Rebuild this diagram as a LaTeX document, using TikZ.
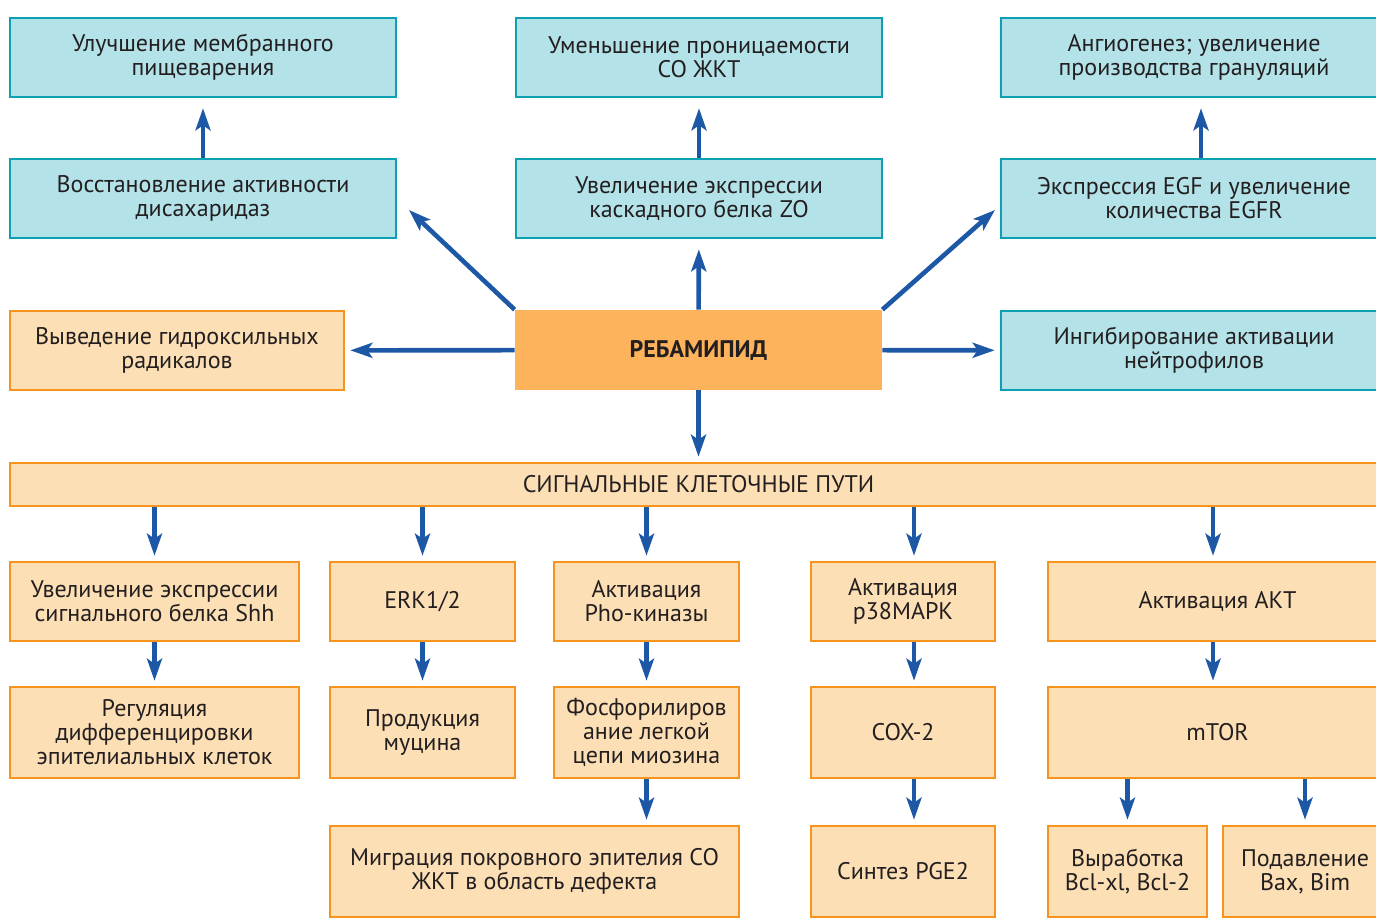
\documentclass[tikz,border=0pt]{standalone}
\usepackage{fontspec}
\setmainfont{PT Sans}
\usetikzlibrary{arrows.meta,positioning,calc}
\definecolor{rbTeal}{HTML}{B3E2E8}
\definecolor{rbTealLine}{HTML}{0BA0B4}
\definecolor{rbPeach}{HTML}{FDDFB5}
\definecolor{rbOrange}{HTML}{F7941D}
\definecolor{rbCore}{HTML}{FDB35B}
\definecolor{rbBlue}{HTML}{1C58A5}
\definecolor{rbText}{HTML}{231F20}
\tikzset{
    box/.style={
        draw=#1,line width=1.3pt,align=center,text=rbText,inner sep=0pt,
        font=\fontsize{12}{12}\selectfont
    },
    tealbox/.style={box=rbTealLine,fill=rbTeal},
    peachbox/.style={box=rbOrange,fill=rbPeach},
    flow/.style={
        -{Stealth[length=11pt,width=7.5pt,inset=2.5pt]},
        line width=2.3pt,draw=rbBlue,shorten >=2.5pt
    }
}

\begin{document}
\begin{tikzpicture}[x=0.5pt,y=-0.5pt]
\useasboundingbox (0,0) rectangle (1376,917);
\clip (0,0) rectangle (1376,917);

% effects
\node[tealbox,minimum width=193pt,minimum height=39.5pt](membr) at (203,57.5)
{Улучшение мембранного\\пищеварения};
\node[tealbox,minimum width=183pt,minimum height=39.5pt](perm) at (699,57.5)
{Уменьшение проницаемости\\СО ЖКТ};
\node[tealbox,minimum width=193pt,minimum height=39.5pt](angio) at (1194,57.5)
{Ангиогенез; увеличение\\производства грануляций};

\node[tealbox,minimum width=193pt,minimum height=39.5pt](disach) at (203,198.5)
{Восстановление активности\\дисахаридаз};
\node[tealbox,minimum width=183pt,minimum height=39.5pt](zo) at (699,198.5)
{Увеличение экспрессии\\каскадного белка ZO};
\node[tealbox,minimum width=193pt,minimum height=39.5pt](egf) at (1194,198.5)
{Экспрессия EGF и увеличение\\количества EGFR};

\node[peachbox,minimum width=167pt,minimum height=39.5pt](radic) at (177,350.5)
{Выведение гидроксильных\\радикалов};
\node[
fill=rbCore,minimum width=183.5pt,minimum height=40pt,text=rbText,
font=\fontsize{12}{12}\selectfont\bfseries
](reb) at (698.5,350) {РЕБАМИПИД};
\node[tealbox,minimum width=193pt,minimum height=39.5pt](neutr) at (1194,350.5)
{Ингибирование активации\\нейтрофилов};

\coordinate (dl) at (409,210);
\coordinate (dr) at (995,210);

% signalling
\node[peachbox,minimum width=688.5pt,minimum height=21.5pt](path) at (698.5,484.5)
{СИГНАЛЬНЫЕ КЛЕТОЧНЫЕ ПУТИ};

\node[peachbox,minimum width=144.5pt,minimum height=39.5pt](shh) at (154.5,601.5)
{Увеличение экспрессии\\сигнального белка Shh};
\node[peachbox,minimum width=92.5pt,minimum height=39.5pt](erk) at (422.5,601.5)
{ERK1/2};
\node[peachbox,minimum width=92.5pt,minimum height=39.5pt](rho) at (646.5,601.5)
{Активация\\Pho-киназы};
\node[peachbox,minimum width=92pt,minimum height=39.5pt](p38) at (903,601.5)
{Активация\\p38MAPK};
\node[peachbox,minimum width=169.5pt,minimum height=39.5pt](akt) at (1217.5,601.5)
{Активация АКТ};

\node[peachbox,minimum width=144.5pt,minimum height=45.5pt](diff) at (154.5,732.5)
{Регуляция\\дифференцировки\\эпителиальных клеток};
\node[peachbox,minimum width=92.5pt,minimum height=45.5pt](mucin) at (422.5,732.5)
{Продукция\\муцина};
\node[peachbox,minimum width=92.5pt,minimum height=45.5pt](myosin) at (646.5,732.5)
{Фосфорилиров\\ание легкой\\цепи миозина};
\node[peachbox,minimum width=92pt,minimum height=45.5pt](cox) at (903,732.5)
{COX-2};
\node[peachbox,minimum width=169.5pt,minimum height=45.5pt](mtor) at (1217.5,732.5)
{mTOR};

\node[peachbox,minimum width=204.5pt,minimum height=45.5pt](migr) at (534.5,871.5)
{Миграция покровного эпителия СО\\ЖКТ в область дефекта};
\node[peachbox,minimum width=92pt,minimum height=45.5pt](pge) at (903,871.5)
{Синтез PGE2};
\node[peachbox,minimum width=79.5pt,minimum height=45.5pt](bcl) at (1127.5,871.5)
{Выработка\\Bcl-xl, Bcl-2};
\node[peachbox,minimum width=82pt,minimum height=45.5pt](bax) at (1305,871.5)
{Подавление\\Bax, Bim};

% arrows
\draw[flow,shorten >=5pt](disach)--(membr);
\draw[flow,shorten >=5pt](zo)--(perm);
\draw[flow,shorten >=5pt]([xshift=3.5pt]egf.north)--([xshift=3.5pt]angio.south);
\draw[flow,shorten >=5pt](reb)--(zo);
\draw[flow,shorten >=0pt](reb.north west)--(dl);
\draw[flow,shorten >=0pt](reb.north east)--(dr);
\draw[flow](reb)--(radic);
\draw[flow](reb)--(neutr);
\draw[flow](reb)--(path);

\draw[flow](path.south -| shh)--(shh);
\draw[flow](path.south -| erk)--(erk);
\draw[flow](path.south -| rho)--(rho);
\draw[flow]([xshift=5.5pt]path.south -| p38)--([xshift=5.5pt]p38.north);
\draw[flow]([xshift=-2.25pt]path.south -| akt)--([xshift=-2.25pt]akt.north);

\draw[flow](shh)--(diff);
\draw[flow](erk)--(mucin);
\draw[flow](rho)--(myosin);
\draw[flow]([xshift=5.5pt]p38.south)--([xshift=5.5pt]cox.north);
\draw[flow]([xshift=-2.25pt]akt.south)--([xshift=-2.25pt]mtor.north);

\draw[flow](myosin.south)--(myosin.south |- migr.north);
\draw[flow]([xshift=5.5pt]cox.south)--([xshift=5.5pt]pge.north);
\draw[flow](mtor.south -| bcl)--(bcl);
\draw[flow](mtor.south -| bax)--(bax);

\end{tikzpicture}
\end{document}
